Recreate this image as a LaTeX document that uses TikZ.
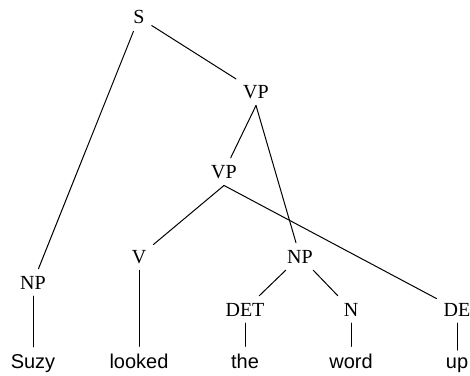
\documentclass[tikz,border=0pt]{standalone}
\usepackage{fontspec}
\setmainfont{Liberation Serif}
\setsansfont{Liberation Sans}
\begin{document}
\begin{tikzpicture}[x=0.5pt,y=-0.5pt,line cap=round,line join=round,line width=0.5pt,
	cat/.style={anchor=base,font=\fontsize{10}{12}\selectfont},
	word/.style={anchor=base,font=\fontsize{10}{12}\selectfont\sffamily}]
\useasboundingbox (0,0) rectangle (470,375);
\node[cat] (S) at (139,24) {S};
\node[cat] (VPa) at (256,98) {VP};
\node[cat] (VPb) at (224,178) {VP};
\node[cat] (NPa) at (33,289) {NP};
\node[cat] (V) at (139,263) {V};
\node[cat] (NPb) at (300,263) {NP};
\node[cat] (DET) at (245,316) {DET};
\node[cat] (N) at (351,316) {N};
\node[cat] (DE) at (457,316) {DE};
\node[word] (Suzy) at (33,368) {Suzy};
\node[word] (looked) at (139,368) {looked};
\node[word] (the) at (245,368) {the};
\node[word] (wd) at (351,368) {word};
\node[word] (up) at (457,368) {up};
\draw (S) -- (VPa);
\draw (S) -- (NPa);
\draw (VPa.south) -- (VPb);
\draw (VPa.south) -- (NPb);
\draw (VPb.south) -- (V);
\draw (VPb.south) -- (DE);
\draw (NPb) -- (DET);
\draw (NPb) -- (N);
\draw (NPa) -- (Suzy);
\draw (V) -- (looked);
\draw (DET) -- (the);
\draw (N) -- (wd);
\draw (DE) -- (up);
\end{tikzpicture}
\end{document}
